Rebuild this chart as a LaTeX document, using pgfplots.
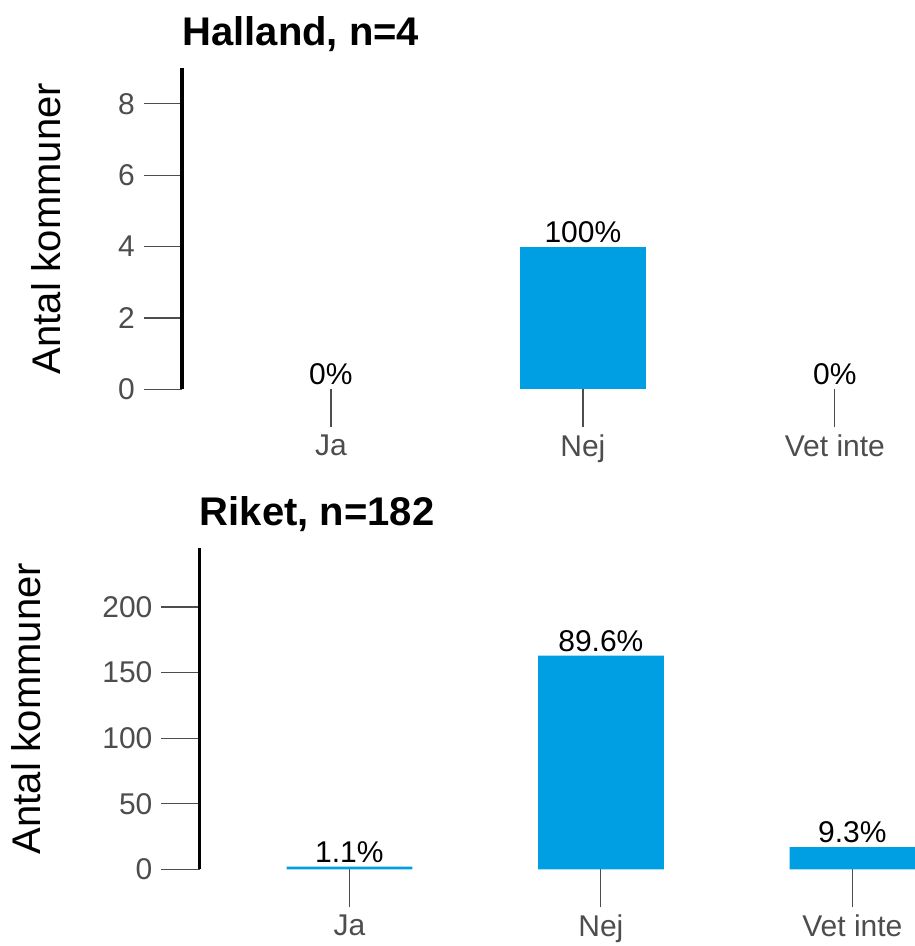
\documentclass[border=0pt]{standalone}
\usepackage{pgfplots}
\pgfplotsset{compat=1.18}
\usepackage{fontspec}
\setmainfont{Liberation Sans}
\definecolor{barblue}{HTML}{009FE3}
\definecolor{tickgray}{HTML}{4D4D4D}
\pgfplotsset{
  panel/.style={
    scale only axis,
    anchor=south west,
    height=160.65pt,
    ybar,
    bar width=0.5,
    bar shift=0pt,
    enlargelimits=false,
    ymin=0,
    clip=false,
    axis x line=bottom,
    axis y line=left,
    x axis line style={draw=none},
    y axis line style={-, line width=1.6pt, black},
    every outer y axis line/.append style={-, line width=1.6pt, black},
    xtick={1,2,3},
    xticklabels={Ja,Nej,Vet inte},
    tick align=outside,
    major tick length=19pt,
    tick style={tickgray, line width=0.6pt},
    minor tick num=0,
    /pgf/number format/assume math mode=true,
    ticklabel style={font=\fontsize{15}{18}\selectfont, text=tickgray},
    yticklabel style={xshift=-1pt},
    ylabel={Antal kommuner},
    ylabel style={font=\fontsize{20}{24}\selectfont, black},
    title style={at={(axis description cs:0,1)}, anchor=base west, inner sep=0pt, yshift=5.5pt, font=\fontsize{20}{24}\selectfont\bfseries},
    point meta=explicit symbolic,
    nodes near coords={\pgfplotspointmeta},
    nodes near coords style={font=\fontsize{15}{18}\selectfont, black, anchor=base, yshift=2.2pt},
  }
}
\begin{document}
\begin{tikzpicture}[x=1pt,y=1pt]
\useasboundingbox (0pt,0pt) rectangle (457pt,-473pt);
\begin{axis}[panel,
  at={(91pt,-194.65pt)},
  width=366pt,
  xmin=0.409, xmax=3.314,
  ymax=9,
  ytick={0,2,4,6,8},
  title={Halland, n=4},
  ylabel shift=22pt]
\addplot[fill=none, draw=none] coordinates {(1,0) [0\%] (3,0) [0\%]};
\addplot[fill=barblue, draw=none] coordinates {(2,4) [100\%]};
\end{axis}
\begin{axis}[panel,
  at={(99.75pt,-434.65pt)},
  width=357.25pt,
  xmin=0.404, xmax=3.245,
  ymax=245,
  ytick={0,50,100,150,200},
  title={Riket, n=182},
  ylabel shift=24pt]
\addplot[fill=barblue, draw=none] coordinates {(1,2) [1.1\%] (2,163) [89.6\%] (3,17) [9.3\%]};
\end{axis}
\end{tikzpicture}
\end{document}
